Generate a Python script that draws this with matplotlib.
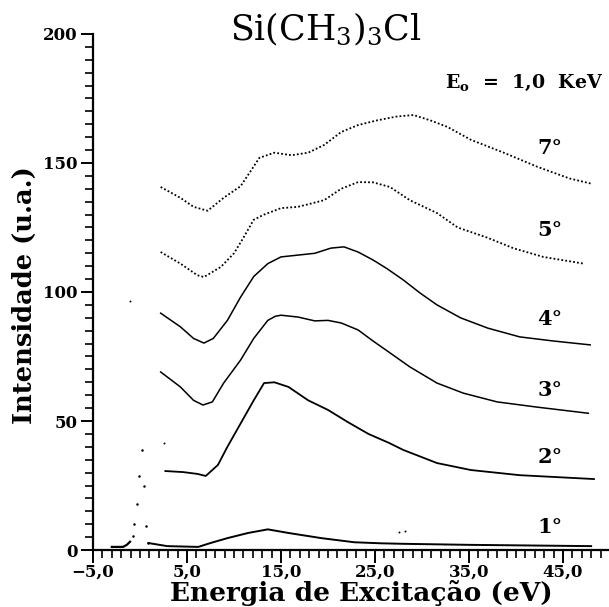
import matplotlib
matplotlib.use("Agg")
import matplotlib.pyplot as plt
from matplotlib.ticker import FixedLocator, MultipleLocator

plt.rcParams['mathtext.fontset'] = 'dejavuserif'
plt.rcParams['font.family'] = ['DejaVu Serif']

# ---- data ----
x7 = [2.2, 4.3, 5.7, 7.2, 8.9, 10.7, 11.8, 12.7, 14.3, 16.1, 17.9, 19.6, 21.4, 23.2,
      25.2, 27.3, 29.1, 30.9, 32.7, 35.2, 38.7, 42.3, 45.7, 48.0]
y7 = [140.7, 136.5, 133.0, 131.5, 136.5, 141.0, 147.0, 152.0, 154.0, 153.0, 154.0, 157.0,
      162.0, 164.7, 166.5, 168.0, 168.6, 166.5, 164.0, 159.0, 154.0, 148.5, 144.0, 142.0]

x5 = [2.2, 4.3, 6.1, 6.8, 8.6, 10.0, 11.0, 12.1, 13.2, 15.0, 16.8, 17.9, 19.6, 21.4,
      23.2, 24.8, 26.6, 28.7, 31.6, 33.8, 37.0, 39.7, 42.9, 47.2]
y5 = [115.5, 111.0, 106.5, 105.8, 109.7, 115.0, 121.0, 128.0, 130.0, 132.5, 133.0, 134.0,
      135.6, 140.0, 142.6, 142.5, 140.7, 135.6, 130.6, 125.0, 121.0, 117.0, 113.6, 111.0]

x4 = [2.2, 4.3, 5.7, 6.8, 7.8, 9.3, 10.7, 12.1, 13.6, 15.0, 16.8, 18.6, 20.3, 21.7,
      23.2, 24.8, 26.3, 28.0, 29.8, 31.6, 34.1, 37.0, 40.4, 44.0, 47.9]
y4 = [91.8, 86.5, 82.0, 80.2, 82.0, 89.0, 98.0, 106.0, 111.0, 113.6, 114.3, 115.0, 117.0,
      117.5, 115.5, 112.4, 109.0, 104.7, 99.6, 95.0, 90.0, 86.0, 82.6, 81.0, 79.5]

x3 = [2.2, 4.3, 5.7, 6.7, 7.7, 8.9, 10.7, 12.1, 13.6, 14.4, 15.0, 16.8, 18.6, 20.0, 21.4,
      23.2, 24.8, 26.6, 28.7, 31.6, 34.4, 38.0, 42.2, 47.7]
y3 = [69.0, 63.2, 58.0, 56.2, 57.4, 64.7, 73.6, 82.0, 89.0, 90.6, 91.0, 90.3, 88.8, 89.0, 88.0,
      85.3, 81.0, 76.4, 71.0, 64.7, 60.8, 57.4, 55.4, 53.0]

x2 = [2.7, 4.6, 6.1, 7.0, 8.3, 9.3, 10.7, 12.1, 13.2, 14.3, 15.8, 17.9, 20.0, 22.1,
      24.3, 26.5, 28.0, 31.6, 35.2, 40.4, 48.3]
y2 = [30.6, 30.2, 29.5, 28.7, 33.0, 40.0, 49.0, 58.0, 64.7, 65.0, 63.2, 58.0, 54.3, 49.6,
      45.0, 41.5, 38.8, 33.7, 31.0, 29.0, 27.5]

# 1 degree spectrum: baseline before the elastic peak, and the loss region after it
x1a = [-3.0, -2.4, -1.8, -1.4, -1.06]
y1a = [1.2, 1.2, 1.2, 2.0, 3.2]
x1b = [0.9, 2.9, 6.2, 7.5, 9.3, 11.5, 13.6, 15.8, 19.3, 22.8, 25.6, 28.0, 35.0, 48.0]
y1b = [2.7, 1.5, 1.2, 2.7, 4.6, 6.6, 8.0, 6.6, 4.6, 3.0, 2.6, 2.4, 2.0, 1.5]

# elastic peak dots of the 1 degree spectrum
xel = [-0.78, -0.61, -0.36, -0.14, 0.18, 0.43, 0.64, 0.88]
yel = [5.4, 10.0, 17.8, 28.7, 38.8, 24.8, 9.3, 2.8]

# isolated stray dots
xs = [-1.1, 2.55, 27.6, 28.2]
ys = [96.5, 41.5, 6.8, 7.2]

angle_labels = ['7°', '5°', '4°', '3°', '2°', '1°']
label_y = [156, 124, 89.5, 62, 36, 9]
label_x = 43.6

xtick_vals = [-5, 5, 15, 25, 35, 45]
xtick_labels = ['−5,0', '5,0', '15,0', '25,0', '35,0', '45,0']
ytick_vals = [0, 50, 100, 150, 200]
ytick_labels = ['0', '50', '100', '150', '200']

# ---- figure ----
fig = plt.figure(figsize=(6.09, 6.07), dpi=100)
ax = fig.add_axes([0.1527, 0.0939, 1 - 0.1527, 0.944 - 0.0939])

dotted = (0, (1, 1.2))
ax.plot(x7, y7, color='black', lw=1.3, linestyle=dotted)
ax.plot(x5, y5, color='black', lw=1.3, linestyle=dotted)
ax.plot(x4, y4, color='black', lw=1.1)
ax.plot(x3, y3, color='black', lw=1.1)
ax.plot(x2, y2, color='black', lw=1.3)
ax.plot(x1a, y1a, color='black', lw=1.6)
ax.plot(x1b, y1b, color='black', lw=1.4)
ax.plot(xel, yel, 'o', color='black', ms=1.8, mew=0)
ax.plot(xs, ys, 'o', color='black', ms=1.4, mew=0)

ax.set_xlim(-5, 49.9)
ax.set_ylim(0, 200)

for s in ['top', 'right']:
    ax.spines[s].set_visible(False)
for s in ['left', 'bottom']:
    ax.spines[s].set_linewidth(1.6)

ax.xaxis.set_major_locator(FixedLocator(xtick_vals))
ax.set_xticklabels(xtick_labels)
ax.xaxis.set_minor_locator(MultipleLocator(1))
ax.yaxis.set_major_locator(FixedLocator(ytick_vals))
ax.set_yticklabels(ytick_labels)
ax.yaxis.set_minor_locator(MultipleLocator(5))

ax.tick_params(which='major', direction='out', length=9, width=1.4, labelsize=12, pad=2)
ax.tick_params(axis='x', which='major', pad=1)
ax.tick_params(which='minor', direction='out', length=6, width=1.2)
for lab in ax.get_xticklabels() + ax.get_yticklabels():
    lab.set_fontweight('bold')

for t, yy in zip(angle_labels, label_y):
    ax.text(label_x, yy, t, ha='center', va='center', fontsize=15, fontweight='bold')

fig.text(326 / 609, 1 - 40 / 607, r'Si(CH$_3$)$_3$Cl', ha='center', va='baseline', fontsize=25)
fig.text(445 / 609, 1 - 83 / 607, r'E$_\mathbf{o}$  =  1,0  KeV', ha='left', va='center',
         fontsize=13.7, fontweight='bold')
fig.text(361 / 609, 1 - 601 / 607, 'Energia de Excitação (eV)', ha='center', va='baseline',
         fontsize=19, fontweight='bold')
fig.text(24 / 609, 1 - 295 / 607, 'Intensidade (u.a.)', ha='center', va='center',
         rotation=90, fontsize=18.5, fontweight='bold')

fig.savefig('out.png', dpi=100)
